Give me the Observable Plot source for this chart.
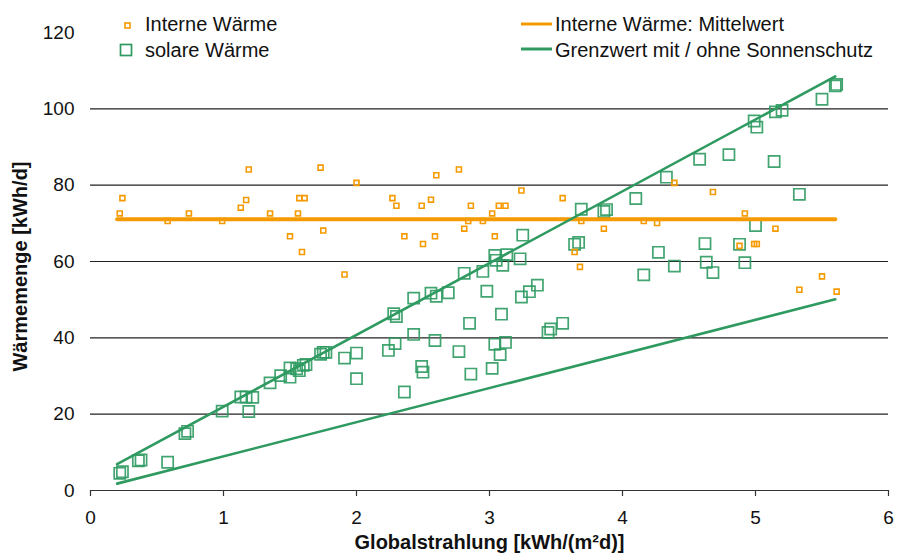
<!DOCTYPE html>
<html>
<head>
<meta charset="utf-8">
<script src="https://cdn.jsdelivr.net/npm/d3@7"></script>
<script src="https://cdn.jsdelivr.net/npm/@observablehq/plot@0.6"></script>
<style>
  html, body { margin: 0; padding: 0; background: #fff; }
  #wrap { position: relative; width: 899px; height: 558px; font-family: "Liberation Sans", Arial, sans-serif; }
  #wrap > svg { position: absolute; left: 0; top: 0; }
  .leg { position: absolute; font-size: 20px; color: #111; white-space: nowrap; line-height: 1; }
  .sym { position: absolute; }
</style>
</head>
<body>
<div id="wrap"></div>
<script>
// ---- data ----
const xTicks = [0, 1, 2, 3, 4, 5, 6];
const yTicks = [0, 20, 40, 60, 80, 100, 120];
const gridValues = [20, 40, 60, 80, 100];

const internX = [0.22,0.24,0.58,0.74,0.99,1.13,1.17,1.19,1.35,1.50,1.56,1.57,1.59,1.61,1.73,1.75,1.91,2.00,2.27,2.30,2.36,2.49,2.50,2.56,2.59,2.60,2.77,2.81,2.84,2.86,2.95,3.02,3.04,3.07,3.12,3.24,3.55,3.64,3.68,3.69,3.86,4.16,4.26,4.39,4.68,4.88,4.92,4.99,5.01,5.15,5.33,5.50,5.61];
const internY = [72.6,76.6,70.6,72.6,70.6,74.1,76.1,84.1,72.6,66.6,72.6,76.6,62.5,76.6,84.6,68.1,56.6,80.6,76.6,74.6,66.6,74.6,64.6,76.2,66.6,82.6,84.1,68.6,70.6,74.6,70.6,72.6,66.6,74.6,74.6,78.6,76.6,62.5,58.6,70.6,68.6,70.6,70.1,80.6,78.2,64.1,72.6,64.6,64.6,68.6,52.6,56.1,52.1];

const solarX = [0.22,0.24,0.36,0.38,0.58,0.71,0.73,0.99,1.13,1.17,1.22,1.19,1.35,1.43,1.50,1.50,1.55,1.57,1.60,1.62,1.73,1.75,1.77,1.91,2.00,2.00,2.24,2.29,2.28,2.30,2.36,2.43,2.43,2.49,2.50,2.56,2.60,2.59,2.69,2.77,2.81,2.85,2.86,2.95,2.98,3.02,3.04,3.04,3.05,3.08,3.09,3.10,3.12,3.13,3.23,3.24,3.25,3.30,3.36,3.44,3.46,3.55,3.64,3.67,3.69,3.86,3.88,4.10,4.16,4.27,4.33,4.39,4.58,4.62,4.63,4.68,4.80,4.88,4.92,4.99,5.00,5.01,5.14,5.15,5.20,5.33,5.50,5.60,5.61];
const solarY = [4.5,4.9,7.8,8.0,7.4,14.9,15.5,20.8,24.5,24.5,24.4,20.7,28.2,30.1,32.1,29.7,31.9,31.4,32.8,33.0,35.7,36.2,36.2,34.7,36.0,29.3,36.7,38.5,46.3,45.6,25.8,50.4,40.9,32.5,31.0,51.7,50.9,39.3,51.8,36.4,56.9,43.8,30.5,57.4,52.2,32.0,38.3,61.6,60.3,35.6,46.2,59.0,38.8,61.8,60.7,50.7,66.9,52.1,53.8,41.4,42.3,43.8,64.5,65.0,73.7,73.1,73.6,76.5,56.5,62.4,82.1,58.8,86.8,64.7,59.8,57.1,88.0,64.5,59.7,96.8,69.4,95.2,86.2,99.2,99.6,77.6,102.5,106.0,106.4];

const meanX = [0.2, 5.6];
const meanY = [71.1, 71.1];
const limitX = [0.2, 5.6];
const limitWithoutY = [6.9, 108.5];
const limitWithY = [1.8, 50.1];

const seriesNames = ["Interne Wärme", "solare Wärme", "Interne Wärme: Mittelwert", "Grenzwert mit / ohne Sonnenschutz"];
const xTitle = "Globalstrahlung [kWh/(m²d)]";
const yTitle = "Wärmemenge [kWh/d]";

const orange = "#f59a00";
const green = "#2e9a60";

// ---- build tables ----
const intern = internX.map((x, i) => ({x, y: internY[i]}));
const solar = solarX.map((x, i) => ({x, y: solarY[i]}));
const meanLine = meanX.map((x, i) => ({x, y: meanY[i]}));
const upper = limitX.map((x, i) => ({x, y: limitWithoutY[i]}));
const lower = limitX.map((x, i) => ({x, y: limitWithY[i]}));

const chart = Plot.plot({
  width: 899,
  height: 558,
  marginLeft: 90,
  marginRight: 11,
  marginTop: 32,
  marginBottom: 68,
  style: {fontFamily: "'Liberation Sans', Arial, sans-serif", fontSize: "19px", color: "#111", background: "white"},
  x: {domain: [0, 6]},
  y: {domain: [0, 120]},
  marks: [
    Plot.ruleY(gridValues, {stroke: "#222", strokeWidth: 1.2}),
    Plot.ruleY([0], {stroke: "#333", strokeWidth: 1.2}),
    Plot.axisX({ticks: xTicks, tickSize: 6, tickPadding: 14, tickFormat: d => String(d), label: null, stroke: "#333", strokeWidth: 1.2, fontSize: 19}),
    Plot.axisY({ticks: yTicks, tickSize: 0, tickPadding: 16, tickFormat: d => String(d), label: null, fontSize: 19}),
    Plot.dot(solar, {x: "x", y: "y", symbol: "square", r: 6.3, stroke: green, strokeWidth: 1.7, fill: "none", strokeOpacity: 0.9}),
    Plot.dot(intern, {x: "x", y: "y", symbol: "square", r: 2.8, stroke: orange, strokeWidth: 1.6, fill: "none"}),
    Plot.line(meanLine, {x: "x", y: "y", stroke: orange, strokeWidth: 4}),
    Plot.line(upper, {x: "x", y: "y", stroke: green, strokeWidth: 2.6}),
    Plot.line(lower, {x: "x", y: "y", stroke: green, strokeWidth: 2.6}),
    Plot.text([xTitle], {frameAnchor: "bottom", textAnchor: "middle", dy: 58, fontWeight: "bold", fontSize: 20, fill: "#111"}),
    Plot.text([yTitle], {frameAnchor: "left", textAnchor: "middle", dx: -70, dy: 5, rotate: -90, fontWeight: "bold", fontSize: 20, fill: "#111"})
  ]
});

const wrap = document.getElementById("wrap");
wrap.appendChild(chart);

// ---- legend (HTML overlay with small inline SVG symbols) ----
const NS = "http://www.w3.org/2000/svg";
function addText(txt, left, top) {
  const d = document.createElement("div");
  d.className = "leg";
  d.textContent = txt;
  d.style.left = left + "px";
  d.style.top = top + "px";
  wrap.appendChild(d);
}
function addSymbol(left, top, w, h, draw) {
  const s = document.createElementNS(NS, "svg");
  s.setAttribute("class", "sym");
  s.setAttribute("width", w);
  s.setAttribute("height", h);
  s.style.position = "absolute";
  s.style.left = left + "px";
  s.style.top = top + "px";
  draw(s);
  wrap.appendChild(s);
}
function rect(s, x, y, w, h, color, sw) {
  const r = document.createElementNS(NS, "rect");
  r.setAttribute("x", x); r.setAttribute("y", y);
  r.setAttribute("width", w); r.setAttribute("height", h);
  r.setAttribute("fill", "none"); r.setAttribute("stroke", color); r.setAttribute("stroke-width", sw);
  s.appendChild(r);
}
function hline(s, w, y, color, sw) {
  const l = document.createElementNS(NS, "line");
  l.setAttribute("x1", 0); l.setAttribute("x2", w);
  l.setAttribute("y1", y); l.setAttribute("y2", y);
  l.setAttribute("stroke", color); l.setAttribute("stroke-width", sw);
  s.appendChild(l);
}
addSymbol(122, 20, 12, 12, s => rect(s, 3, 3, 5, 5, orange, 1.6));
addText(seriesNames[0], 145, 14);
addSymbol(118, 42, 16, 16, s => rect(s, 2.5, 2.5, 11, 11, green, 1.7));
addText(seriesNames[1], 145, 40);
addSymbol(521, 18, 31, 12, s => hline(s, 31, 6, orange, 3));
addText(seriesNames[2], 555, 14);
addSymbol(521, 43, 31, 12, s => hline(s, 31, 6, green, 3));
addText(seriesNames[3], 555, 40);
</script>
</body>
</html>
